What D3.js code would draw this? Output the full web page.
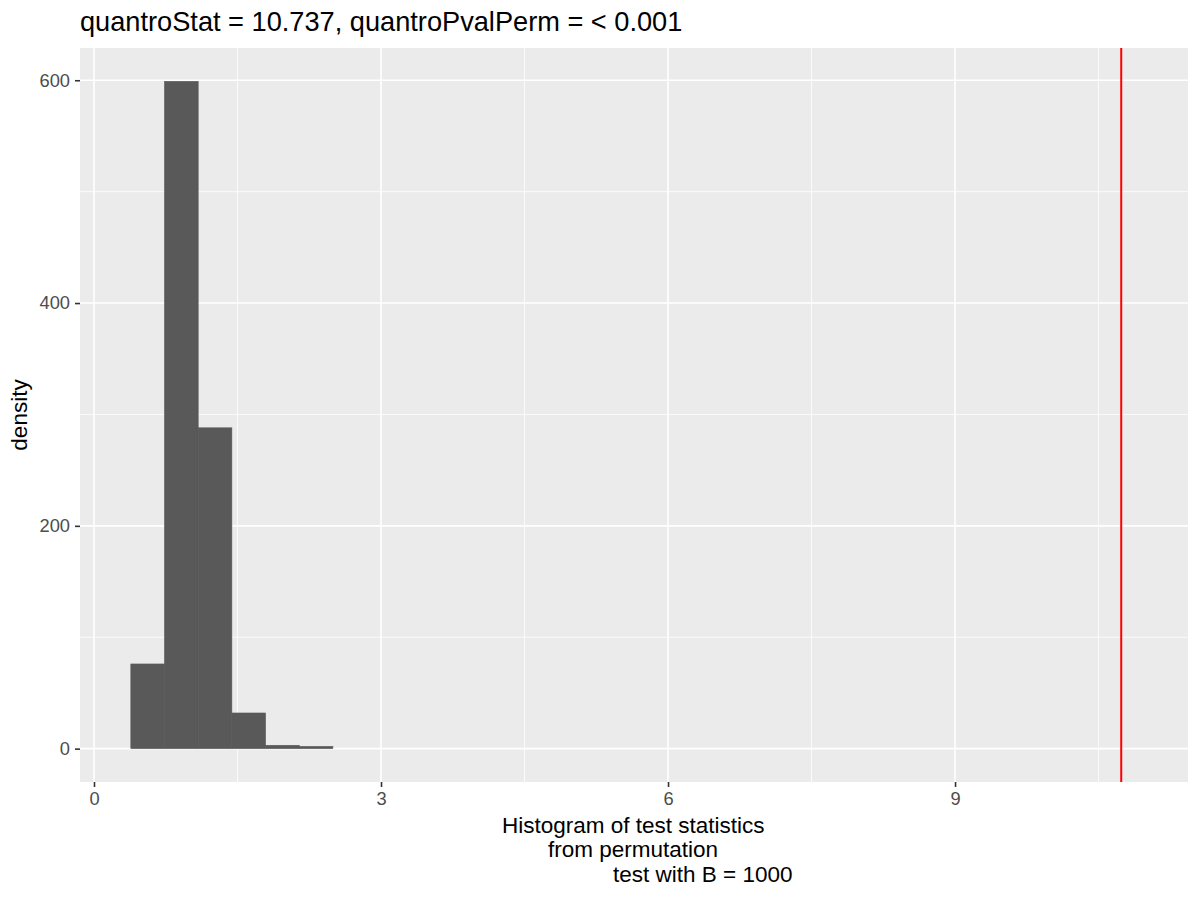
<!DOCTYPE html>
<html lang="en">
<head>
  <meta charset="UTF-8">
  <title>quantro permutation histogram</title>
  <script src="https://d3js.org/d3.v7.min.js"></script>
  <style>
    body { margin: 0; background: #fff; font-family: "Liberation Sans", Arial, sans-serif; }
  </style>
</head>
<body>
  <div id="chart"></div>

  <script>
    // histogram bins (edges) and counts
    var binEdges = [0.385, 0.737, 1.089, 1.441, 1.793, 2.145, 2.497];
    var binCounts = [76, 599, 288, 32, 3, 2];
    var quantroStat = 10.737;

    var xTicks = [0, 3, 6, 9];
    var xMinor = [1.5, 4.5, 7.5, 10.5];
    var yTicks = [0, 200, 400, 600];
    var yMinor = [100, 300, 500];

    var titleText = "quantroStat = 10.737, quantroPvalPerm = < 0.001";
    var xTitleLines = ["Histogram of test statistics", "from permutation", "test with B = 1000"];
    var yTitle = "density";

    var W = 1200, H = 900;
    var panel = { left: 80, right: 1188, top: 48, bottom: 782 };

    var svg = d3.select("#chart").append("svg")
      .attr("width", W)
      .attr("height", H);

    var x = d3.scaleLinear()
      .domain([-0.1463, 11.435])
      .range([panel.left, panel.right]);

    var y = d3.scaleLinear()
      .domain([-29.95, 628.95])
      .range([panel.bottom, panel.top]);

    // panel background
    svg.append("rect")
      .attr("x", panel.left)
      .attr("y", panel.top)
      .attr("width", panel.right - panel.left)
      .attr("height", panel.bottom - panel.top)
      .attr("fill", "#EBEBEB");

    var grid = svg.append("g");
    // minor grid
    grid.selectAll(".xminor").data(xMinor).enter().append("line")
      .attr("x1", function(d) { return x(d); }).attr("x2", function(d) { return x(d); })
      .attr("y1", panel.top).attr("y2", panel.bottom)
      .attr("stroke", "#fff").attr("stroke-width", 0.8);
    grid.selectAll(".yminor").data(yMinor).enter().append("line")
      .attr("y1", function(d) { return y(d); }).attr("y2", function(d) { return y(d); })
      .attr("x1", panel.left).attr("x2", panel.right)
      .attr("stroke", "#fff").attr("stroke-width", 0.8);
    // major grid
    grid.selectAll(".xmajor").data(xTicks).enter().append("line")
      .attr("x1", function(d) { return x(d); }).attr("x2", function(d) { return x(d); })
      .attr("y1", panel.top).attr("y2", panel.bottom)
      .attr("stroke", "#fff").attr("stroke-width", 1.6);
    grid.selectAll(".ymajor").data(yTicks).enter().append("line")
      .attr("y1", function(d) { return y(d); }).attr("y2", function(d) { return y(d); })
      .attr("x1", panel.left).attr("x2", panel.right)
      .attr("stroke", "#fff").attr("stroke-width", 1.6);

    // histogram bars
    svg.append("g").selectAll("rect")
      .data(binCounts)
      .enter()
      .append("rect")
      .attr("x", function(d, i) { return x(binEdges[i]); })
      .attr("width", function(d, i) { return x(binEdges[i + 1]) - x(binEdges[i]); })
      .attr("y", function(d) { return y(d); })
      .attr("height", function(d) { return y(0) - y(d); })
      .attr("fill", "#595959")
      .attr("stroke", "#595959")
      .attr("stroke-width", 0.6);

    // observed statistic
    svg.append("line")
      .attr("x1", x(quantroStat)).attr("x2", x(quantroStat))
      .attr("y1", panel.top).attr("y2", panel.bottom)
      .attr("stroke", "#FF0000")
      .attr("stroke-width", 2);

    // axes
    var xAxis = svg.append("g")
      .attr("transform", "translate(0," + panel.bottom + ")")
      .call(d3.axisBottom(x).tickValues(xTicks).tickSize(5).tickPadding(5).tickFormat(d3.format("d")));
    var yAxis = svg.append("g")
      .attr("transform", "translate(" + panel.left + ",0)")
      .call(d3.axisLeft(y).tickValues(yTicks).tickSize(5).tickPadding(5).tickFormat(d3.format("d")));

    [xAxis, yAxis].forEach(function(a) {
      a.select(".domain").remove();
      a.selectAll(".tick line").attr("stroke", "#333333").attr("stroke-width", 1.6);
      a.selectAll(".tick text")
        .attr("fill", "#4D4D4D")
        .style("font-family", "'Liberation Sans', Arial, sans-serif")
        .style("font-size", "18.3px");
    });

    // title
    svg.append("text")
      .attr("x", panel.left)
      .attr("y", 31)
      .attr("fill", "#000")
      .style("font-size", "27.2px")
      .text(titleText);

    // x axis title, three lines as in the reference
    var xTitleX = [502, 548, 613];
    svg.append("g").selectAll("text")
      .data(xTitleLines)
      .enter()
      .append("text")
      .attr("x", function(d, i) { return xTitleX[i]; })
      .attr("y", function(d, i) { return 832.5 + i * 24.5; })
      .attr("fill", "#000")
      .style("font-size", "22.5px")
      .text(function(d) { return d; });

    // y axis title
    svg.append("text")
      .attr("transform", "translate(27," + ((panel.top + panel.bottom) / 2) + ") rotate(-90)")
      .attr("text-anchor", "middle")
      .attr("fill", "#000")
      .style("font-size", "22.5px")
      .text(yTitle);
  </script>
</body>
</html>
